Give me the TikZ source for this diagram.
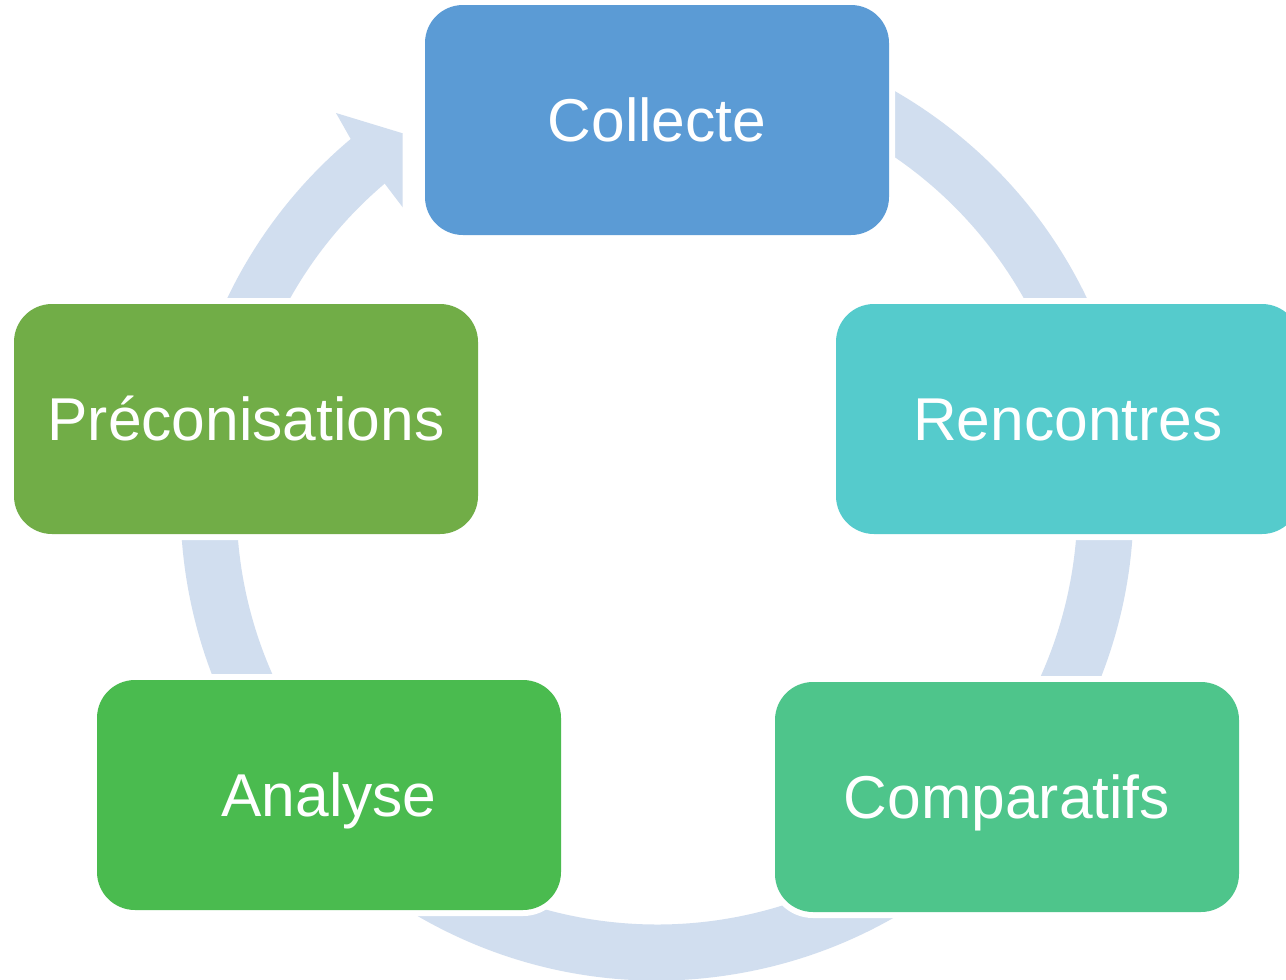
\documentclass[tikz,border=0pt]{standalone}
\usepackage{fontspec}
\setmainfont{Liberation Sans}
\definecolor{ringc}{HTML}{D1DEEF}
\definecolor{cA}{HTML}{5B9BD5}
\definecolor{cB}{HTML}{55CBCC}
\definecolor{cC}{HTML}{4EC58B}
\definecolor{cD}{HTML}{4ABB4F}
\definecolor{cE}{HTML}{71AD47}
\begin{document}
\begin{tikzpicture}[x=0.5pt,y=-0.5pt,
  box/.style={rounded corners=19pt, minimum width=232pt, minimum height=115pt,
    inner sep=0pt, text=white, font=\fontsize{30.25}{36}\selectfont,
    text height=21.6pt, text depth=0pt,
    preaction={draw=white,line width=6pt}}]
\clip (0,0) rectangle (1286,980);
\fill[white] (0,0) rectangle (1286,980);
% ring arrow
\fill[ringc] ([shift={(-100:476.5)}]657,504)
  arc[start angle=-100, end angle=230, radius=476.5]
  -- (336,113) -- (402.7,133.3) -- (402.7,207.3) -- (385,184)
  -- ([shift={(230:420.5)}]657,504)
  arc[start angle=230, end angle=-100, radius=420.5] -- cycle;
% boxes
\node[box, fill=cA] (collecte) at (657,120) {Collecte};
\node[box, fill=cB] (rencontres) at (1068,419) {Rencontres};
\node[box, fill=cC] (comparatifs) at (1007,797) {Comparatifs};
\node[box, fill=cD] (analyse) at (329,795) {Analyse};
\node[box, fill=cE] (preco) at (246,419) {Préconisations};
\end{tikzpicture}
\end{document}
